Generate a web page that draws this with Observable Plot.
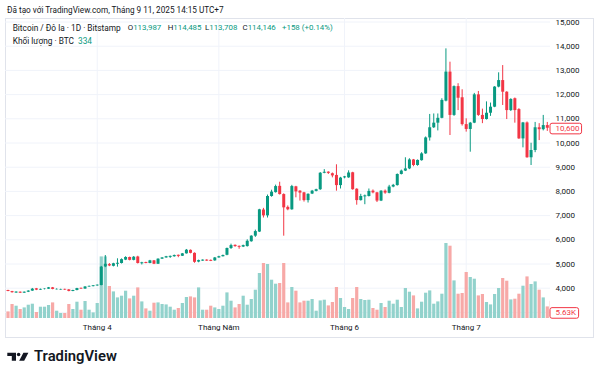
<!DOCTYPE html>
<html><head><meta charset="utf-8">
<script src="https://cdn.jsdelivr.net/npm/d3@7"></script>
<script src="https://cdn.jsdelivr.net/npm/@observablehq/plot@0.6"></script>
<style>
html,body{margin:0;padding:0;background:#fff}
#wrap{position:relative;width:600px;height:378px;overflow:hidden;background:#fff;font-family:Roboto,"Noto Sans",sans-serif;color:#131722}
#border{position:absolute;left:5px;top:18px;width:589px;height:320px;border:1px solid #e0e3eb;box-sizing:border-box}
.layer{position:absolute;left:0;top:18px}
.txt{position:absolute;white-space:pre;font-size:8.2px;line-height:10px}
.leg{font-size:8.3px}
.val{font-size:7.9px;top:23.3px}
.g{color:#089981}
#logo{position:absolute;left:0;top:340px}
</style></head>
<body>
<div id="wrap">
  <div id="border"></div>
  <div id="layers"></div>
  <div class="txt" style="left:7px;top:5px;">Đã tạo với TradingView.com, Tháng 9 11, 2025 14:15 UTC+7</div>
  <div id="legend"></div>
  <svg id="logo" width="130" height="30">
    <path d="M7.3 12.7 H16 V20.7 H11.8 V16 H7.3 Z" fill="#131722"/>
    <circle cx="18.6" cy="14.4" r="1.75" fill="#131722"/>
    <path d="M23.4 12.7 H28.4 L24.2 20.7 H19.2 Z" fill="#131722"/>
    <text x="34" y="20.9" font-family="Roboto, sans-serif" font-weight="600" font-size="14.8" fill="#131722">TradingView</text>
  </svg>
</div>
<script>
// ---- data ----
const startDate = Date.UTC(2025, 2, 10);
const open  = [3905,3860,3800,3835,3795,3835,3880,3975,3920,3945,3960,4015,3935,3925,3950,3930,3865,3905,3995,3965,4050,4065,4095,4110,4880,4975,4905,4990,5020,5160,5270,5150,5290,5010,5060,5020,5130,4990,5200,5250,5275,5300,5360,5320,5420,5565,5440,5080,5120,5160,5150,5130,5250,5300,5360,5640,5770,5730,5700,5720,5920,6150,6320,7230,6990,7790,7950,8210,7870,7340,7240,8190,8010,7940,7620,7890,8000,8070,8750,8795,8730,8660,8240,8560,8560,8770,8090,7620,7775,7790,8010,7940,7600,8010,7920,8180,8240,8700,8840,8930,9300,9070,9270,9550,10210,10630,10820,11020,11730,12930,11140,12330,11870,10760,10560,10820,11990,11140,10970,11230,11480,12310,12580,12100,11340,11830,11380,10170,10830,9390,9690,10630,10550,10720,10650];
const high  = [3915,3870,3850,3845,3845,3895,3990,3990,3965,3975,4030,4030,3975,3960,3960,3945,3915,3995,4005,4065,4090,4110,4135,4900,5350,5020,5030,5215,5210,5300,5285,5310,5320,5070,5075,5150,5145,5215,5265,5315,5330,5370,5370,5435,5600,5580,5460,5160,5170,5175,5165,5270,5320,5370,5660,5820,5790,5745,5780,6000,6170,6400,7260,7300,7850,8050,8260,8380,7900,7400,8250,8210,8030,7960,7900,8040,8090,8780,8900,8810,8760,9100,8580,8620,8850,8790,8110,7880,7850,8100,8060,7960,8030,8060,8250,8290,8720,8880,9390,9350,9320,9300,9600,10250,11180,11200,11200,11830,13890,13340,12360,12450,12200,11000,10850,12050,12130,11400,11700,11650,12330,12900,13200,12120,11830,11860,11420,10850,10870,9990,10850,10800,11140,10850,10700];
const low   = [3855,3795,3790,3780,3785,3820,3870,3900,3910,3930,3950,3935,3925,3910,3905,3850,3855,3890,3950,3955,4035,4055,4080,4100,4850,4890,4880,4870,5000,5140,5130,5130,5000,4960,5010,5010,4975,4980,5190,5240,5230,5280,5260,5310,5410,5420,5030,5050,5110,5110,5100,5110,5240,5290,5340,5600,5690,5610,5680,5700,5900,6100,6300,6900,6900,7760,7930,7850,6150,7200,7220,7735,7600,7560,7520,7870,7980,8040,8730,8700,8560,8010,8100,8520,8540,8050,7430,7600,7450,7770,7900,7540,7580,7880,7900,8150,8220,8680,8820,8900,9020,9040,9250,9530,10080,10600,10500,11000,11700,10310,11100,11340,10700,10450,9620,10800,11100,10800,10950,11100,11460,12280,11550,10970,11300,10820,10150,9800,9370,9070,9600,10100,10500,10480,10550];
const close = [3865,3815,3840,3795,3835,3880,3960,3920,3950,3960,4015,3950,3950,3945,3925,3865,3905,3985,3965,4050,4075,4100,4125,4870,4990,4920,5010,5030,5180,5270,5150,5280,5020,5050,5020,5130,4990,5200,5250,5300,5315,5350,5315,5420,5570,5440,5070,5140,5160,5120,5110,5250,5300,5350,5640,5760,5720,5690,5760,5940,6150,6340,7240,6990,7790,7970,8200,7870,7320,7240,8200,7980,7930,7620,7880,8010,8070,8750,8790,8745,8640,8240,8550,8600,8760,8070,7620,7790,7815,8000,7940,7600,8010,7930,8180,8250,8700,8840,8930,9300,9070,9280,9550,10210,10630,10820,11020,11760,12930,11140,12330,11850,10760,10560,10820,11990,11140,10970,11230,11480,12310,12580,12100,11340,11800,11340,10170,10830,9390,9690,10630,10550,10720,10610,10600];
const volume = [6.6,14,12.3,9,10.6,13.3,14.3,6,11.3,11.3,13,15.6,7.3,5,5,14,9,16.3,8.3,17,8.3,5.6,15,61.6,61.6,32,26.6,20.6,22.3,27.3,19.6,22.3,30.6,16.6,9.6,7.3,15.3,15.6,14,13.6,11.3,8.3,10,15,21,21.6,20.6,30.6,8.3,8.3,12.3,10.6,9,12.3,25.6,17.3,10.6,14,22.3,13.3,19,28.3,45,55,54,38.3,34.3,35,55,15.6,31,27.3,15.6,17.3,17.3,19,7.3,17.6,18.3,12.6,16,31,20,11,9,20,31,19,18,18.3,10,8.3,15,11,17.3,14.3,18.3,11,30,26.3,22.6,9.6,16.3,25.3,27.6,14.3,16.6,24.3,75,72.3,37.6,24.3,25,46,41,39.3,22.6,24,16,13.6,24,30,40,37.3,18.6,19.3,24.3,32.3,41.6,34,36.6,28.3,20.6,11.6,17.3];
const lastVolumeLabel = 5.63;
const monthTicks = [Date.UTC(2025,3,1), Date.UTC(2025,4,1), Date.UTC(2025,5,1), Date.UTC(2025,6,1)];
const monthLabels = ["Tháng 4", "Tháng Năm", "Tháng 6", "Tháng 7"];
const priceTicks = [3000,4000,5000,6000,7000,8000,9000,10000,11000,12000,13000,14000,15000];
const legendName = "Bitcoin / Đô la · 1D · Bitstamp";
const legendOHLC = [["O","113,987"],["H","114,485"],["L","113,708"],["C","114,146"]];
const legendChange = "+158 (+0.14%)";
const legendVol = ["Khối lượng · BTC", "334"];

// ---- build ----
const DAY = 864e5;
const data = open.map((o, i) => ({date: new Date(startDate + i*DAY), open: o, high: high[i], low: low[i], close: close[i], volume: volume[i]}));
const UP = "#089981", DOWN = "#f23645", VUP = "#92d2cc", VDOWN = "#f7a9a7";
const xDomain = [new Date(startDate - 0.617*DAY), new Date(startDate + 133.79*DAY)];
const ticksDates = monthTicks.map(t => new Date(t));
const common = {width: 600, height: 320, marginLeft: 5, marginRight: 50, marginTop: 0, marginBottom: 20,
  style: {background: "transparent", fontFamily: "Roboto, sans-serif", fontSize: "8px", color: "#131722"}};
const xs = {type: "utc", domain: xDomain, axis: null};
const ys = {domain: [2748, 15145], axis: null};
const vs = {domain: [0, 300], axis: null};

const gridLayer = Plot.plot({...common, x: xs, y: ys, marks: [
  Plot.gridY(priceTicks, {stroke: "#f0f3fa", strokeOpacity: 1}),
  Plot.gridX(ticksDates, {stroke: "#f0f3fa", strokeOpacity: 1})
]});
const volLayer = Plot.plot({...common, x: xs, y: vs, color: {type: "identity"}, marks: [
  Plot.ruleX(data, {x: "date", y1: 0, y2: "volume", stroke: d => d.close >= d.open ? VUP : VDOWN, strokeWidth: 3.2, clip: true})
]});
const last = data[data.length - 1];
const priceLayer = Plot.plot({...common, x: xs, y: ys, color: {type: "identity"}, marks: [
  Plot.axisY(priceTicks, {anchor: "right", tickSize: 0, tickPadding: 5, tickFormat: d3.format(","), label: null, fill: "#131722"}),
  Plot.axisX(ticksDates, {anchor: "bottom", tickSize: 0, tickPadding: 6, label: null, fill: "#131722",
    tickFormat: d => monthLabels[monthTicks.indexOf(+d)]}),
  Plot.ruleX(data, {x: "date", y1: "low", y2: "high", stroke: d => d.close >= d.open ? UP : DOWN, strokeWidth: 1, clip: true}),
  Plot.ruleX(data, {x: "date", y1: "open", y2: "close", stroke: d => d.close >= d.open ? UP : DOWN, strokeWidth: 3, clip: true}),
  Plot.text([last], {y: "close", text: d => d3.format(",")(d.close), frameAnchor: "right", dx: 5, textAnchor: "start", fill: DOWN})
]});
const volLabelLayer = Plot.plot({...common, x: xs, y: vs, marks: [
  Plot.text([lastVolumeLabel], {y: d => d, text: d => d3.format(".2f")(d) + "K", frameAnchor: "right", dx: 5, textAnchor: "start", fill: DOWN})
]});

const host = document.getElementById("layers");
for (const svg of [gridLayer, volLayer, priceLayer, volLabelLayer]) {
  svg.classList.add("layer");
  svg.style.position = "absolute"; svg.style.left = "0px"; svg.style.top = "18px";
  host.appendChild(svg);
}
for (const svg of [priceLayer, volLabelLayer]) {
  svg.querySelectorAll('g[aria-label="text"] text').forEach(t => {
    const b = t.getBBox();
    const r = document.createElementNS("http://www.w3.org/2000/svg", "rect");
    r.setAttribute("x", b.x - 5.5); r.setAttribute("y", b.y - 0.8);
    r.setAttribute("width", b.width + 7); r.setAttribute("height", b.height + 1.6);
    r.setAttribute("rx", 2); r.setAttribute("fill", "#fff"); r.setAttribute("stroke", DOWN); r.setAttribute("stroke-width", 1);
    if (t.getAttribute("transform")) r.setAttribute("transform", t.getAttribute("transform"));
    t.parentNode.insertBefore(r, t);
  });
}

// legend (absolute positions per item)
const legend = document.getElementById("legend");
const add = (html, left, top, cls) => {
  const d = document.createElement("div");
  d.className = "txt leg" + (cls ? " " + cls : ""); d.style.left = left + "px"; if (top != null) d.style.top = top + "px";
  d.innerHTML = html; legend.appendChild(d);
};
add(legendName, 12.7, 23);
const ohlcX = [127.7, 167.7, 205, 242.5];
legendOHLC.forEach(([k, v], i) => add(`${k}<span class="g">${v}</span>`, ohlcX[i], null, "val"));
add(`<span class="g">${legendChange}</span>`, 282, null, "val");
add(`${legendVol[0]}<span class="g" style="margin-left:4px">${legendVol[1]}</span>`, 12.7, 36);
</script>
</body></html>
